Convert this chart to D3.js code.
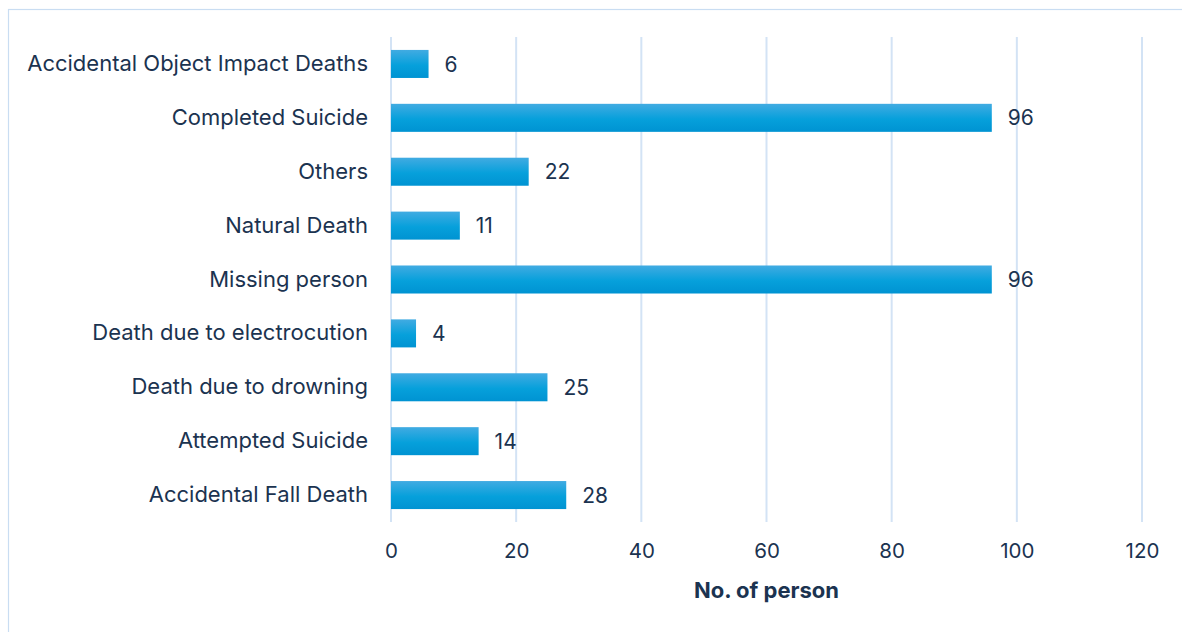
<!DOCTYPE html>
<html>
<head>
<meta charset="utf-8">
<script src="https://cdn.jsdelivr.net/npm/d3@7/dist/d3.min.js"></script>
<style>
  html, body { margin: 0; padding: 0; background: #fff; }
  svg { display: block; }
  text { font-family: Inter, "Open Sans", sans-serif; fill: #1b3350; }
</style>
</head>
<body>
<svg id="chart" width="1182" height="632"></svg>
<script>
// Causes of incidents, listed top to bottom
const categories = [
  "Accidental Object Impact Deaths",
  "Completed Suicide",
  "Others",
  "Natural Death",
  "Missing person",
  "Death due to electrocution",
  "Death due to drowning",
  "Attempted Suicide",
  "Accidental Fall Death"
];
const persons = [6, 96, 22, 11, 96, 4, 25, 14, 28];
const xTicks = [0, 20, 40, 60, 80, 100, 120];
const xTitle = "No. of person";

const svg = d3.select("#chart");
const W = 1182, H = 632;

// Outer frame of the chart
svg.append("rect")
  .attr("x", 8.5).attr("y", 9.5)
  .attr("width", W).attr("height", H)
  .attr("fill", "#fff")
  .attr("stroke", "#c9ddf2")
  .attr("stroke-width", 1.2);

const plot = { left: 391, right: 1142, top: 37, bottom: 522 };

const x = d3.scaleLinear().domain([0, 120]).range([plot.left, plot.right]);
const y = d3.scaleBand().domain(categories).range([plot.top, plot.bottom])
  .paddingInner(0.48).paddingOuter(0.24);

// Bar fill gradient: lighter on top, deeper blue below
const defs = svg.append("defs");
const grad = defs.append("linearGradient").attr("id", "barGrad")
  .attr("x1", 0).attr("y1", 0).attr("x2", 0).attr("y2", 1);
grad.append("stop").attr("offset", "0%").attr("stop-color", "#41abe2");
grad.append("stop").attr("offset", "55%").attr("stop-color", "#06a0db");
grad.append("stop").attr("offset", "100%").attr("stop-color", "#0093d2");

// Vertical gridlines
svg.append("g")
  .selectAll("line")
  .data(xTicks)
  .join("line")
  .attr("x1", d => x(d)).attr("x2", d => x(d))
  .attr("y1", plot.top).attr("y2", plot.bottom)
  .attr("stroke", "#d3e3f5")
  .attr("stroke-width", 2);

// Bars
svg.append("g")
  .selectAll("rect")
  .data(categories)
  .join("rect")
  .attr("x", x(0))
  .attr("y", d => y(d))
  .attr("width", (d, i) => x(persons[i]) - x(0))
  .attr("height", y.bandwidth())
  .attr("fill", "url(#barGrad)");

// Value labels
svg.append("g")
  .selectAll("text")
  .data(categories)
  .join("text")
  .attr("x", (d, i) => x(persons[i]) + 16)
  .attr("y", d => y(d) + y.bandwidth() / 2)
  .attr("dy", "0.36em")
  .attr("font-size", 21)
  .text((d, i) => persons[i]);

// Category axis labels
const yAxis = d3.axisLeft(y).tickSize(0).tickPadding(23);
const gy = svg.append("g").attr("transform", `translate(${plot.left},0)`).call(yAxis);
gy.select(".domain").remove();
gy.selectAll("text")
  .attr("font-size", 22)
  .attr("font-family", "Inter, 'Open Sans', sans-serif")
  .attr("fill", "#1b3350");

// Value axis tick labels
const xAxis = d3.axisBottom(x).tickValues(xTicks).tickSize(0).tickPadding(21);
const gx = svg.append("g").attr("transform", `translate(0,${plot.bottom})`).call(xAxis);
gx.select(".domain").remove();
gx.selectAll("text")
  .attr("font-size", 20.5)
  .attr("font-family", "Inter, 'Open Sans', sans-serif")
  .attr("fill", "#1b3350");

// Axis title
svg.append("text")
  .attr("x", (plot.left + plot.right) / 2)
  .attr("y", 598)
  .attr("text-anchor", "middle")
  .attr("font-size", 22)
  .attr("font-weight", "bold")
  .text(xTitle);
</script>
</body>
</html>
